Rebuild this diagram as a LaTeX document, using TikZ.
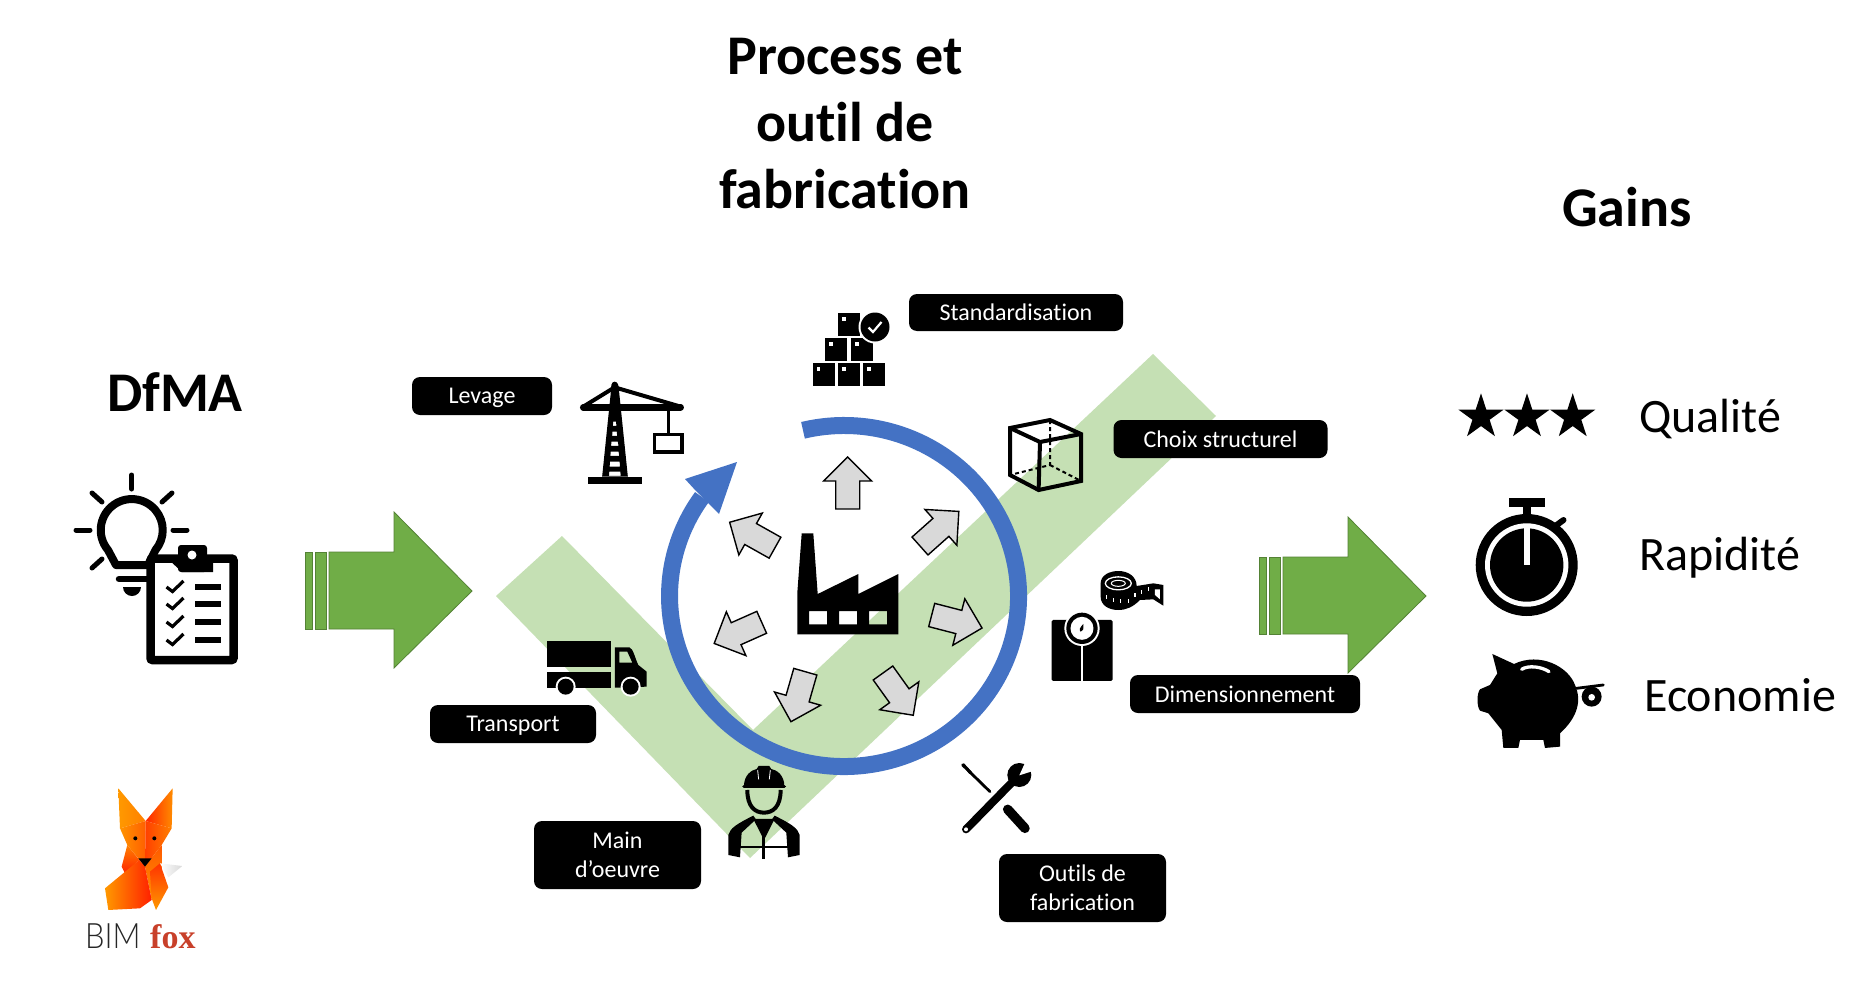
\documentclass[tikz,border=0pt]{standalone}
\usepackage{fontspec}
\usetikzlibrary{shapes.geometric}
\setmainfont{Carlito}[Ligatures=NoCommon]
\newfontfamily\bimfont{Lato}[UprightFont=* Light]
\newfontfamily\foxfont{Liberation Serif}
\definecolor{armgreen}{HTML}{C5E0B4}
\definecolor{ringblue}{HTML}{4472C4}
\definecolor{bigarrow}{HTML}{70AD47}
\definecolor{bigedge}{HTML}{548235}
\definecolor{greyarrow}{HTML}{D9D9D9}
\definecolor{foxred}{HTML}{C8402A}
\tikzset{
  lab/.style={fill=black,text=white,rounded corners=8pt,font=\fontsize{24}{29}\selectfont,align=center,inner sep=0pt},
  labone/.style={lab,text height=18pt,text depth=1.4pt},
  labdesc/.style={lab,text height=18pt,text depth=3pt},
  head/.style={font=\fontsize{56}{67}\selectfont\bfseries,align=center,inner sep=0pt},
  gain/.style={font=\fontsize{48}{58}\selectfont,anchor=west,inner sep=0pt},
  grayarr/.style={fill=greyarrow,draw=black,line width=1.4pt,line join=miter},
  bigarr/.style={fill=bigarrow,draw=bigedge,line width=.8pt},
  starnode/.style={star,star points=5,star point ratio=2.618,fill=black,inner sep=0pt,minimum size=47.4pt}
}
\begin{document}
\begin{tikzpicture}[x=1pt,y=-1pt]
\useasboundingbox (0,0) rectangle (1850,1001);
\fill[white] (0,0) rectangle (1850,1001);

% green check mark
\fill[armgreen] (496,596) -- (562,536) -- (753,730) -- (1153,354) -- (1216,416) -- (750,858) -- cycle;

% big arrows
\foreach \dx/\dy in {0/0,954/5}{
\begin{scope}[shift={(\dx,\dy)}]
\draw[bigarr] (305,552) rectangle (312,629);
\draw[bigarr] (315,552) rectangle (326,629);
\draw[bigarr] (329,552) -- (394,552) -- (394,512) -- (472,591) -- (394,668) -- (394,629) -- (329,629) -- cycle;
\end{scope}}

% ring
\draw[ringblue,line width=17pt] (803,430.3) arc[start angle=103.6,end angle=-215.5,x radius=174.5pt,y radius=170.5pt];
\fill[ringblue] (737,462) -- (685,479) -- (696,491) -- (708,503) -- (719,514) -- cycle;

% grey arrows
\foreach \x/\y/\a in {847.7/509/90,920/546/41.7,775/547.7/150.7,931.7/615/-14.5,883/673/-54.4,805.3/671.7/-106,761.7/622.3/204}{
\draw[grayarr,shift={(\x,\y)},rotate=\a] (0,-12) -- (28,-12) -- (28,-24) -- (52,0) -- (28,24) -- (28,12) -- (0,12) -- cycle;}

% factory
\fill[black,even odd rule] (801.7,533.3) -- (813.3,533.3) -- (817.7,594) -- (858.3,574) -- (858.3,594) -- (898.3,574) -- (898.3,634.3) -- (797.3,634.3) -- (797.3,593) -- cycle
  (809,611) rectangle (827,624.3) (839,611) rectangle (857,624.3) (869,611) rectangle (887,624.3);

% bulb + clipboard
\draw[line width=8pt,line join=round,fill=white] (116,565) -- (108,550) arc[start angle=220,end angle=-40,radius=31pt] -- (148,565) -- cycle;
\foreach \a/\b/\c/\d in {131.7/475/131.7/489,76/530/90/530,173/530/187/530,92/493/102/502,172/493/162/502,92/568/102/559}{
\draw[line width=5pt,line cap=round] (\a,\b) -- (\c,\d);}
\draw[line width=6.5pt,line cap=round] (119,579) -- (150,579);
\fill (123,587) -- (141,587) arc[start angle=0,end angle=-180,radius=9pt] -- cycle;
\draw[line width=8.5pt,fill=white,rounded corners=2pt] (150.5,558.5) rectangle (233.5,660);
\fill[rounded corners=3pt] (178,572) -- (178,545) -- (207,545) -- (207,572) -- cycle;
\fill (168,559) -- (213,559) -- (213,572) -- (182,572) -- cycle;
\fill[white] (192,555) circle[radius=4.5pt];
\foreach \y in {587,604,622,640}{
\draw[line width=3.2pt] (166.5,\y) -- (172.5,\y+4.5) -- (183.5,\y-6);
\draw[line width=6pt] (195,\y) -- (221,\y);}

% fox
\begin{scope}[shift={(50,760)},scale=.3333]
\shade[left color=orange!80!yellow,right color=orange] (205,85) -- (287,183) -- (210,205) -- cycle;
\shade[left color=orange!30!red,right color=orange!90!yellow] (368,85) -- (287,183) -- (365,205) -- cycle;
\shade[left color=orange!85!yellow,right color=orange!75!red] (210,205) -- (287,183) -- (285,320) -- (232,255) -- cycle;
\shade[left color=red!50!orange,right color=orange] (287,183) -- (365,205) -- (335,255) -- (285,320) -- cycle;
\shade[top color=orange,bottom color=red!70!orange] (232,255) -- (268,300) -- (225,340) -- (215,320) -- cycle;
\shade[top color=orange!70!red,bottom color=orange!85!yellow] (335,255) -- (285,320) -- (305,420) -- (335,325) -- cycle;
\shade[left color=orange!80!yellow,right color=red!75!orange] (268,300) -- (165,385) -- (175,450) -- (270,445) -- (305,420) -- (285,320) -- cycle;
\shade[top color=red!60!orange,bottom color=orange!80!yellow] (330,310) -- (355,382) -- (318,450) -- (305,415) -- (300,335) -- cycle;
\shade[left color=white,right color=gray!30] (330,310) -- (397,318) -- (355,352) -- cycle;
\fill (265,295) -- (305,295) -- (285,320) -- cycle;
\fill (256,235) circle[radius=6pt] (313,235) circle[radius=6pt];
\end{scope}
\node[inner sep=0pt,anchor=base west,text=black!85,font=\bimfont\fontsize{35}{40}\selectfont,xscale=.88,transform shape] (bim) at (85,948) {BIM};
\node[inner sep=0pt,anchor=base west,text=foxred,font=\foxfont\bfseries\fontsize{34}{40}\selectfont] (fox) at (150,948) {fox};

% crane
\begin{scope}[shift={(560,290)},xscale=.3571,yscale=.3333]
\fill[even odd rule] (153,275) .. controls (143,275) and (143,290) .. (143,300) -- (118,560) -- (190,560) -- (165,300) .. controls (165,290) and (163,275) .. (153,275) -- cycle
  (149,395) -- (157,395) -- (158,408) -- (148,408) -- cycle
  (147,425) -- (159,425) -- (160,438) -- (146,438) -- cycle
  (144,455) -- (162,455) -- (164,468) -- (143,468) -- cycle
  (142,485) -- (164,485) -- (166,498) -- (141,498) -- cycle
  (140,515) -- (167,515) -- (168,530) -- (139,530) -- cycle
  (138,545) -- (169,545) -- (170,558) -- (137,558) -- cycle;
\fill (78,560) rectangle (230,583);
\draw[line width=6.5pt,line cap=round] (65,352) -- (338,352);
\draw[line width=4pt,line cap=round] (65,350) -- (153,292) -- (338,350);
\draw[line width=3pt] (303,352) -- (303,430);
\draw[line width=3.5pt] (265,434) rectangle (341,486);
\end{scope}

% boxes
\foreach \x/\y in {812.5/363,838/363,863/363,825/338,851/338,838/313}{
\fill (\x,\y) rectangle ++(22.3,23);
\fill[white] (\x+4,\y+4) rectangle ++(3.5,3.5);}
\fill[white] (875,327) circle[radius=16.5pt];
\fill (875,327) circle[radius=14.5pt];
\draw[white,line width=2.2pt] (868.5,327.5) -- (873,332) -- (881.5,322);

% cube
\begin{scope}[line width=4pt,line join=miter]
\draw (1050,420) -- (1081,434) -- (1081,481) -- (1038.6,490) -- (1010,475) -- (1010,428) -- cycle;
\draw (1010,428) -- (1040,442) -- (1081,434) (1040,442) -- (1038.6,490);
\end{scope}
\draw[line width=2pt,dash pattern=on 4pt off 3pt] (1050,420) -- (1050,465) -- (1010,475) (1050,465) -- (1081,481);

% truck
\begin{scope}[shift={(520,620)},scale=.3333]
\fill (82,62) rectangle (272,142);
\fill (82,155) rectangle (272,203);
\fill[even odd rule] (285,82) -- (328,82) .. controls (340,85) and (345,115) .. (355,135) -- (380,155) -- (380,200) -- (285,203) -- cycle
  (298,95) -- (322,95) -- (337,128) -- (298,128) -- cycle;
\fill[white] (137,200) circle[radius=30pt];
\fill[white] (332,200) circle[radius=30pt];
\fill (137,200) circle[radius=24pt];
\fill (332,200) circle[radius=24pt];
\end{scope}

% worker
\begin{scope}[shift={(520,620)},scale=.3333]
\fill (672,498) .. controls (672,465) and (695,450) .. (710,447) -- (716,438) -- (748,438) -- (754,447) .. controls (770,450) and (793,465) .. (793,498) -- cycle;
\draw[white,line width=.8pt] (713,450) -- (716,478) (751,450) -- (748,478);
\draw[line width=3.5pt,line cap=round] (672,500) -- (793,500);
\draw[line width=4pt] (682,510) .. controls (682,560) and (705,578) .. (732,578) .. controls (759,578) and (782,560) .. (782,510);
\fill (625,705) -- (625,645) .. controls (630,625) and (650,612) .. (700,587) -- (708,598) -- (665,638) -- (660,712) -- cycle;
\fill (839,705) -- (839,645) .. controls (834,625) and (814,612) .. (764,587) -- (756,598) -- (799,638) -- (804,712) -- cycle;
\fill (700,597) -- (764,597) -- (732,660) -- cycle;
\draw[line width=3pt] (732,640) -- (732,716);
\draw[line width=1.8pt] (660,680) -- (804,680);
\end{scope}

% scale + tape
\begin{scope}[shift={(940,550)},scale=.3333]
\fill[rounded corners=1.5pt] (335,210) rectangle (518,393);
\draw[white,line width=2.5pt] (426,280) -- (426,395);
\fill[white] (426,235) circle[radius=53pt];
\fill (426,235) circle[radius=47pt];
\fill[white] (426,235) circle[radius=34.5pt];
\fill (430,222) .. controls (432,238) and (428,245) .. (422,245) .. controls (416,240) and (420,232) .. (430,222) -- cycle;
\fill (482,100) .. controls (482,75) and (510,63) .. (535,63) .. controls (565,63) and (590,80) .. (590,108) -- (640,100) -- (670,105) -- (670,167) -- (640,148) -- (600,150) .. controls (580,170) and (560,180) .. (535,180) .. controls (505,180) and (482,165) .. (482,140) -- cycle;
\draw[white,line width=1.3pt] (535,100) ellipse[x radius=39pt,y radius=19.5pt];
\draw[white,line width=1pt] (535,100) ellipse[x radius=21pt,y radius=9pt];
\foreach \a/\b in {500/135,520/145,542/148,566/148,585/130,605/120,625/112}{
\draw[white,line width=1.1pt] (\a,\b) -- ++(0,12);}
\fill[white] (645,118) -- (660,118) -- (660,148) -- (645,135) -- cycle;
\end{scope}

% tools
\begin{scope}[shift={(940,740)},scale=.3333]
\draw[line width=2.8pt,line cap=round] (68,75) -- (150,155);
\draw[line width=9.5pt,line cap=round] (203,208) -- (255,265);
\fill (65,72) -- (72,70) -- (95,95) -- (88,102) -- cycle;
\draw[white,line width=12pt] (75,290) -- (235,125);
\draw[line width=8pt,line cap=round] (78,268) -- (225,118);
\fill[white] (78,268) circle[radius=6pt];
\fill (238,105) circle[radius=36pt];
\fill[white] (238,106) -- (258,62) -- (282,92) -- cycle;
\end{scope}

% stars
\node[starnode] (s1) at (1481,417) {};
\node[starnode] (s2) at (1527,417) {};
\node[starnode] (s3) at (1572.7,417) {};

% stopwatch
\fill (1526.7,565) circle[radius=51pt];
\fill[white] (1526.7,565) circle[radius=41.7pt];
\fill (1526.7,565) circle[radius=36.7pt];
\fill[white] (1523.7,528) rectangle (1529.7,564.5);
\fill (1522.7,506) rectangle (1530.7,516);
\fill (1509,498.3) rectangle (1545,507.3);
\draw[line width=6pt,line cap=round] (1556.7,525) -- (1563.5,520);

% piggy
\begin{scope}[shift={(1440,380)},scale=.3333]
\fill (157,822) -- (222,852) .. controls (300,815) and (385,860) .. (405,915) .. controls (425,960) and (415,1010) .. (360,1060) -- (360,1100) -- (315,1104) -- (310,1080) -- (240,1080) -- (235,1104) -- (190,1104) -- (185,1050) -- (145,1000) -- (120,992) .. controls (110,980) and (110,940) .. (120,928) -- (150,915) -- (172,880) -- cycle;
\draw[white,line width=3.3pt,line cap=round] (245,868) .. controls (265,855) and (305,860) .. (327,875);
\draw[line width=2.8pt,line cap=round] (410,925) -- (490,915);
\fill (455,950) circle[radius=30pt];
\fill[white] (455,952) circle[radius=10pt];
\end{scope}

% texts
\node[head] (title) at (845,123.5) {Process et\\outil de\\fabrication};
\node[head] (gains) at (1627,207) {Gains};
\node[head] (dfma) at (175,392) {DfMA};
\node[gain] (q) at (1639,419) {Qualité};
\node[gain] (r) at (1639,557.5) {Rapidité};
\node[gain] (e) at (1644,695) {Economie};

\node[labone,minimum width=214pt,minimum height=37pt] (l1) at (1016,312.5) {Standardisation};
\node[labdesc,minimum width=140pt,minimum height=38pt] (l2) at (482,396) {Levage};
\node[labone,minimum width=214pt,minimum height=38pt] (l3) at (1220.5,439) {Choix structurel};
\node[labone,minimum width=230pt,minimum height=38pt] (l4) at (1245,694) {Dimensionnement};
\node[labdesc,minimum width=166pt,minimum height=38pt] (l5) at (513,724) {Transport};
\node[lab,minimum width=167pt,minimum height=68pt] (l6) at (617.5,855) {Main\\d’oeuvre};
\node[lab,minimum width=167pt,minimum height=68pt] (l7) at (1082.5,888) {Outils de\\fabrication};
\end{tikzpicture}
\end{document}
